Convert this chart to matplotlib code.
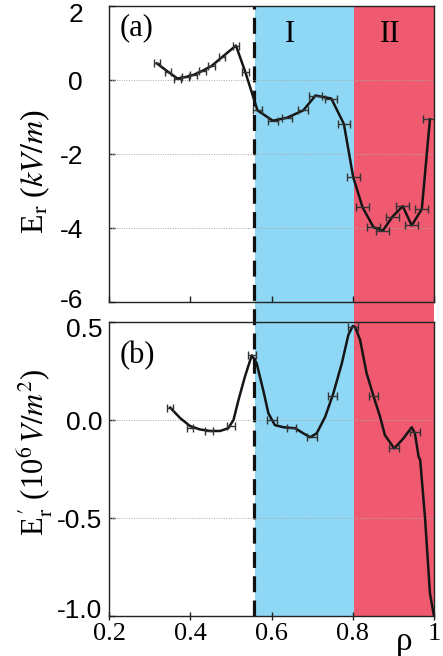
import matplotlib
matplotlib.use("Agg")
import matplotlib.pyplot as plt
from matplotlib.transforms import ScaledTranslation

plt.rcParams['mathtext.fontset'] = 'stix'

# panel (a): radial electric field, markers with horizontal error bars
rho_a = [0.317, 0.345, 0.368, 0.388, 0.408, 0.430, 0.452, 0.478, 0.512, 0.535,
         0.565, 0.603, 0.638, 0.678, 0.708, 0.747, 0.778, 0.801, 0.824, 0.851,
         0.874, 0.898, 0.923, 0.945, 0.970, 0.990]
er_a = [0.45, 0.22, 0.04, 0.08, 0.14, 0.25, 0.38, 0.62, 0.93, 0.22,
        -0.82, -1.10, -1.02, -0.82, -0.42, -0.50, -1.19, -2.63, -3.44, -3.98,
        -4.07, -3.69, -3.41, -3.93, -3.49, -1.06]
xerr_a = [0.008, 0.008, 0.008, 0.008, 0.008, 0.008, 0.008, 0.008, 0.008, 0.008,
          0.012, 0.012, 0.012, 0.012, 0.015, 0.015, 0.015, 0.016, 0.016, 0.016,
          0.016, 0.016, 0.016, 0.016, 0.016, 0.016]

# panel (b): derivative, markers
rho_b = [0.350, 0.399, 0.446, 0.500, 0.551, 0.600, 0.649, 0.699, 0.750, 0.801,
         0.851, 0.902, 0.953]
der_b = [0.063, -0.042, -0.058, -0.032, 0.33, 0.0, -0.043, -0.089, 0.122, 0.476,
         0.122, -0.145, -0.06]
xerr_b = [0.008, 0.008, 0.01, 0.01, 0.01, 0.012, 0.012, 0.012, 0.012, 0.012,
          0.012, 0.012, 0.012]

# panel (b): smooth curve
curve_rho = [0.350, 0.375, 0.399, 0.423, 0.448, 0.473, 0.493, 0.506, 0.518, 0.534,
             0.551, 0.563, 0.580, 0.592, 0.608, 0.629, 0.658, 0.678, 0.695, 0.711,
             0.732, 0.752, 0.773, 0.789, 0.800, 0.806, 0.818, 0.834, 0.851, 0.867,
             0.879, 0.902, 0.925, 0.945, 0.953, 0.962, 0.966, 0.978, 0.990, 1.0]
curve_der = [0.063, 0.009, -0.031, -0.048, -0.056, -0.056, -0.042, 0.0, 0.10, 0.22,
             0.33, 0.29, 0.145, 0.034, -0.026, -0.037, -0.042, -0.068, -0.088, -0.068,
             0.017, 0.136, 0.29, 0.434, 0.48, 0.473, 0.408, 0.238, 0.122, 0.017,
             -0.077, -0.145, -0.093, -0.037, -0.068, -0.187, -0.204, -0.502, -0.884, -1.0]

xticks = [0.2, 0.4, 0.6, 0.8, 1.0]
xticklabels = ['0.2', '0.4', '0.6', '0.8', '1']
yticks_a = [2, 0, -2, -4, -6]
yticklabels_a = ['2', '0', '-2', '-4', '-6']
yticks_b = [0.5, 0.0, -0.5, -1.0]
yticklabels_b = ['0.5', '0.0', '-0.5', '-1.0']

blue = '#8ed8f6'
red = '#f05a71'
sep_rho = 0.557
region1 = (0.559, 0.803)
region2 = (0.803, 1.0)

fig = plt.figure(figsize=(4.43, 6.56), dpi=100)
left, width = 109.3 / 443, 324.7 / 443
top_a, bot_a = 1 - 6 / 656, 1 - 302 / 656
top_b, bot_b = 1 - 322 / 656, 1 - 616 / 656

# background: shading and dashed separator over both panels
bg = fig.add_axes([left, bot_b, width, top_a - bot_b])
bg.set_xlim(0.2, 1.0)
bg.set_ylim(0, 1)
bg.axvspan(*region1, color=blue, lw=0)
bg.axvspan(*region2, color=red, lw=0)
bg.axvline(sep_rho, color='#111111', lw=2.3, dashes=(5, 2.6))
bg.axis('off')

ax1 = fig.add_axes([left, bot_a, width, top_a - bot_a])
ax2 = fig.add_axes([left, bot_b, width, top_b - bot_b])
for ax in (ax1, ax2):
    ax.patch.set_alpha(0)
    ax.set_xlim(0.2, 1.0)
    ax.set_xticks(xticks)
    for s in ax.spines.values():
        s.set_linewidth(1.0)
        s.set_color('#222222')
    ax.tick_params(direction='in', length=4, width=1.0, color='#222222')


def nudge_ends(ax, down, up):
    labels = ax.get_yticklabels()
    labels[0].set_transform(labels[0].get_transform() +
                            ScaledTranslation(0, -down / 100, fig.dpi_scale_trans))
    labels[-1].set_transform(labels[-1].get_transform() +
                             ScaledTranslation(0, up / 100, fig.dpi_scale_trans))


# panel (a)
ax1.set_ylim(-6, 2)
ax1.set_yticks(yticks_a)
ax1.set_yticklabels(yticklabels_a, family='Liberation Sans', fontsize=19)
ax1.tick_params(axis='y', pad=19)
ax1.set_xticklabels([])
nudge_ends(ax1, 7, 4)
for g in [0, -2, -4]:
    ax1.axhline(g, color='#aaaaaa', lw=0.7, ls=(0, (1, 1.5)))
ax1.plot(rho_a, er_a, color='#151515', lw=1.8)
ax1.errorbar(rho_a, er_a, xerr=xerr_a, fmt='none', ecolor='#333333',
             elinewidth=1.0, capsize=3, capthick=1.0)
ax1.text(0.225, 1.4, '(a)', family='Liberation Serif', fontsize=22, va='center')
ax1.text(0.646, 1.22, 'I', family='Liberation Serif', fontsize=22, ha='center', va='center')
ax1.text(0.892, 1.22, 'II', family='Liberation Serif', fontsize=22, ha='center', va='center')

# panel (b)
ax2.set_ylim(-1.0, 0.5)
ax2.set_yticks(yticks_b)
ax2.set_yticklabels(yticklabels_b, family='Liberation Sans', fontsize=19)
ax2.tick_params(axis='y', pad=5)
nudge_ends(ax2, 5, 7)
ax2.set_xticklabels(xticklabels, family='Liberation Serif', fontsize=19)
ax2.tick_params(axis='x', direction='inout', length=6, pad=2)
for g in [0.0, -0.5]:
    ax2.axhline(g, color='#aaaaaa', lw=0.7, ls=(0, (1, 1.5)))
ax2.plot(curve_rho, curve_der, color='#151515', lw=1.8)
ax2.errorbar(rho_b, der_b, xerr=xerr_b, fmt='none', ecolor='#333333',
             elinewidth=1.0, capsize=3, capthick=1.0)
ax2.text(0.225, 0.33, '(b)', family='Liberation Serif', fontsize=22, va='center')

fig.text(35 / 443, 1 - 172 / 656, r'E$_\mathrm{r}$ ($kV/m$)', family='Liberation Serif',
         fontsize=23, rotation=90, ha='center', va='center')
fig.text(35 / 443, 1 - 452 / 656, r"E$^{\,\prime}_\mathrm{r}$ (10$^6$$\,V/m^2$)",
         family='Liberation Serif', fontsize=22, rotation=90, ha='center', va='center')
fig.text(404 / 443, 1 - 642 / 656, '\u03c1', family='Liberation Serif', fontsize=24,
         ha='center', va='center')

fig.savefig('out.png', dpi=100)
